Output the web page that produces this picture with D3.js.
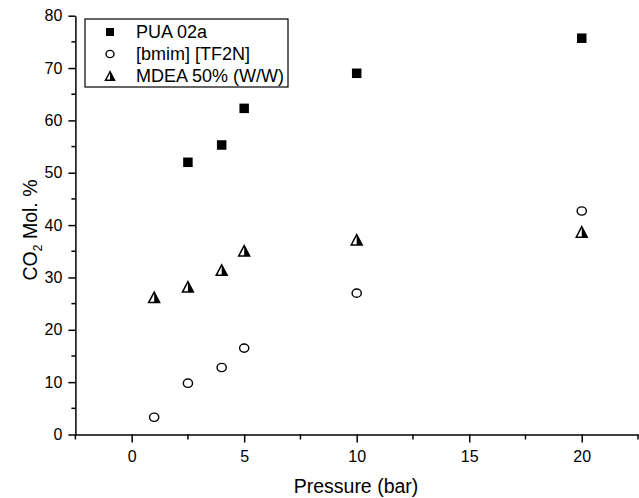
<!DOCTYPE html>
<html><head><meta charset="utf-8">
<script src="https://cdn.jsdelivr.net/npm/d3@7"></script>
<style>body{margin:0;background:#fff}svg{display:block}text{font-family:"Liberation Sans",Arial,sans-serif;fill:#000}</style>
</head><body>
<script>
const pressure = [1, 2.5, 4, 5, 10, 20];
const puaX = [2.5, 4, 5, 10, 20];
const puaY = [52, 55.3, 62.3, 69, 75.7];
const bmimY = [3.3, 9.8, 12.8, 16.5, 27, 42.7];
const mdeaY = [26.2, 28.2, 31.4, 35.1, 37.2, 38.7];
const seriesNames = ["PUA 02a", "[bmim] [TF2N]", "MDEA 50% (W/W)"];
const xTicks = [0, 5, 10, 15, 20];
const yTicks = [0, 10, 20, 30, 40, 50, 60, 70, 80];

const W = 639, H = 498;
const svg = d3.select("body").append("svg").attr("width", W).attr("height", H);
const x = d3.scaleLinear().domain([-2.5, 22.5]).range([75.4, 638]);
const y = d3.scaleLinear().domain([0, 80]).range([434.5, 15.7]);

// axes
const xAxis = d3.axisBottom(x).tickValues(xTicks).tickSize(8).tickSizeOuter(0).tickPadding(8).tickFormat(d3.format("d"));
const gx = svg.append("g").attr("transform", `translate(0,${y(0)})`).call(xAxis);
gx.selectAll(".tick line").attr("stroke-width", 1.5);
const xMinor = d3.range(-2.5, 22.6, 2.5).filter(v => !xTicks.includes(v));
gx.selectAll(".minor").data(xMinor).enter().append("line").attr("class","minor")
  .attr("x1", d => x(d)).attr("x2", d => x(d)).attr("y1", 0).attr("y2", 5).attr("stroke","#000").attr("stroke-width",1.5);
const yAxis = d3.axisLeft(y).tickValues(yTicks).tickSize(7).tickSizeOuter(0).tickPadding(6);
const gy = svg.append("g").attr("transform", `translate(${x(-2.5)},0)`).call(yAxis);
gy.selectAll(".tick line").attr("stroke-width", 1.5);
const yMinor = d3.range(5, 80, 10);
gy.selectAll(".minor").data(yMinor).enter().append("line").attr("class","minor")
  .attr("y1", d => y(d)).attr("y2", d => y(d)).attr("x1", 0).attr("x2", -4).attr("stroke","#000").attr("stroke-width",1.5);
[gx, gy].forEach(g => {
  g.select(".domain").attr("stroke-width", 1.5).attr("stroke","#000");
  g.selectAll("text").style("font-size", "16px").style("font-family", "Liberation Sans, Arial, sans-serif");
});

// axis titles
svg.append("text").attr("x", 356).attr("y", 493).attr("text-anchor","middle").style("font-size","19.5px").text("Pressure (bar)");
const yt = svg.append("text").attr("transform", "translate(37,230) rotate(-90)").attr("text-anchor","middle").style("font-size","19.5px");
yt.append("tspan").text("CO");
yt.append("tspan").attr("dy", 5).style("font-size","12px").text("2");
yt.append("tspan").attr("dy", -5).text(" Mol. %");

// markers
function square(g, cx, cy, s) {
  g.append("rect").attr("x", cx - s/2).attr("y", cy - s/2).attr("width", s).attr("height", s).attr("fill", "#000");
}
function circle(g, cx, cy, r) {
  g.append("ellipse").attr("cx", cx).attr("cy", cy).attr("rx", r).attr("ry", r*0.9).attr("fill","#fff").attr("stroke","#000").attr("stroke-width",1.4);
}
function tri(g, cx, cy, s) {
  const h = s * 0.95;
  const top = [cx, cy - h/2], bl = [cx - s/2, cy + h/2], br = [cx + s/2, cy + h/2];
  g.append("path").attr("d", `M${top}L${bl}L${br}Z`).attr("fill","#fff").attr("stroke","#000").attr("stroke-width",1.5).attr("stroke-linejoin","miter");
  g.append("path").attr("d", `M${top}L${cx},${cy + h/2}L${br}Z`).attr("fill","#000");
}
const gm = svg.append("g");
puaX.forEach((v, i) => square(gm, x(v), y(puaY[i]), 9.5));
pressure.forEach((v, i) => circle(gm, x(v), y(bmimY[i]), 4.6));
pressure.forEach((v, i) => tri(gm, x(v), y(mdeaY[i]), 11));

// legend
const lg = svg.append("g");
lg.append("rect").attr("x", 85).attr("y", 19).attr("width", 203).attr("height", 68).attr("fill","#fff").attr("stroke","#000").attr("stroke-width",1.2);
const ly = [32, 54, 76];
square(lg, 110, ly[0], 8);
circle(lg, 110, ly[1], 4);
tri(lg, 110, ly[2], 9);
seriesNames.forEach((n, i) => lg.append("text").attr("x", 136).attr("y", ly[i] + 6).style("font-size","18px").text(n));
</script>
</body></html>
